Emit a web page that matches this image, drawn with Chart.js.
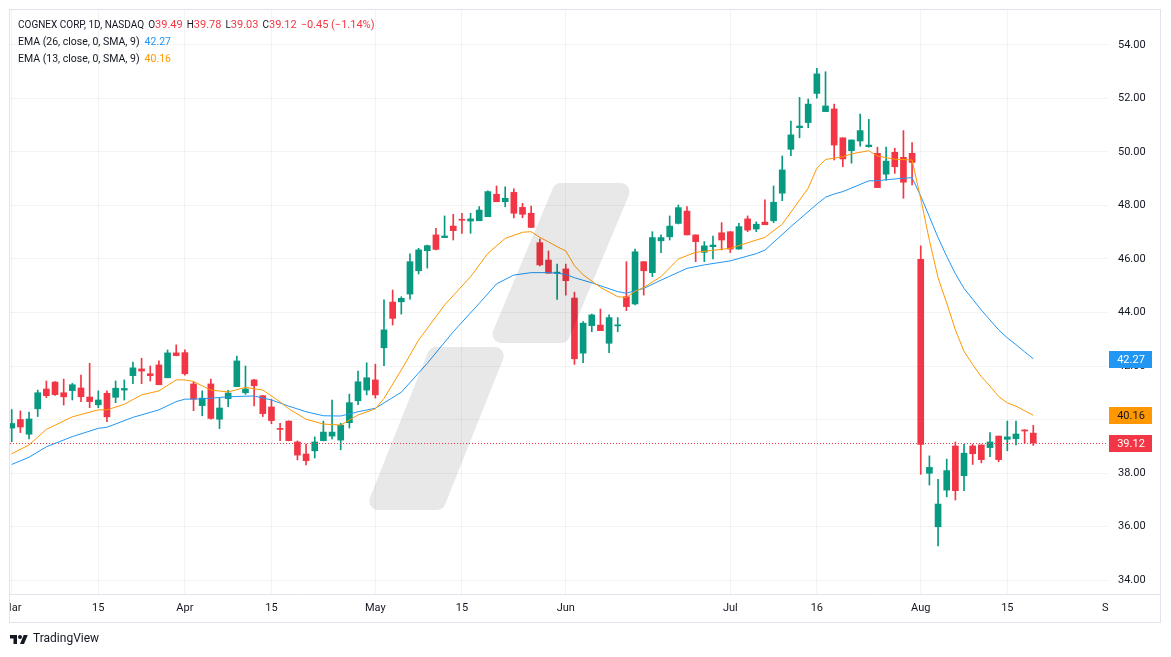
<!DOCTYPE html>
<html>
<head>
<meta charset="utf-8">
<title>COGNEX CORP, 1D, NASDAQ</title>
<script src="https://cdn.jsdelivr.net/npm/chart.js@4.4.1/dist/chart.umd.min.js"></script>
<style>
  html, body { margin: 0; padding: 0; background: #fff; }
  #wrap { position: relative; width: 1171px; height: 657px; overflow: hidden; }
  #wrap canvas { position: absolute; left: 0; top: 0; }
  .legend { position: absolute; left: 18px; font: 10.5px Roboto, Arial, sans-serif; color: #131722; white-space: pre; line-height: 12px; }
  .legend.title { font-size: 10px; top: 19px; }
  .legend.title .v { font-size: 11px; }
  .legend.title b { font-weight: normal; margin-left: 4px; }
  .dn { color: #F23645; }
  .blue { color: #2196F3; margin-left: 5px; }
  .orange { color: #FF9800; margin-left: 5px; }
  #brand { position: absolute; left: 10px; top: 631px; font: 12px Roboto, Arial, sans-serif; color: #131722; display: flex; align-items: center; gap: 5px; }
</style>
</head>
<body>
<div id="wrap">
  <canvas id="cognexChart" width="1171" height="657"></canvas>
  <div class="legend title">COGNEX CORP, 1D, NASDAQ<b>O<span class="dn v">39.49</span></b><b>H<span class="dn v">39.78</span></b><b>L<span class="dn v">39.03</span></b><b>C<span class="dn v">39.12</span></b><b class="dn v">−0.45 (−1.14%)</b></div>
  <div class="legend" style="top:36px">EMA (26, close, 0, SMA, 9)<span class="blue">42.27</span></div>
  <div class="legend" style="top:53px">EMA (13, close, 0, SMA, 9)<span class="orange">40.16</span></div>
  <div id="brand">
    <svg width="18" height="11" viewBox="0 0 36 22"><path d="M14 22H7V11H0V4h14v18z" fill="#131722"/><circle cx="20" cy="8" r="4" fill="#131722"/><path d="M28 22h-8l7.5-18h8z" fill="#131722"/></svg>
    <span>TradingView</span>
  </div>
</div>
<script>
// Daily candles, 1 Mar 2024 -> 20 Aug 2024 (index = trading day)
var opens = [39.68,40.00,39.45,40.40,41.14,41.40,41.00,41.08,41.18,40.84,
  40.55,40.98,40.83,41.10,41.64,41.89,41.71,42.04,41.56,42.49,
  42.50,41.33,40.52,41.33,40.01,40.78,41.23,41.00,41.48,40.89,
  40.47,39.65,39.94,39.16,38.71,38.83,39.21,39.38,39.23,39.88,
  40.70,41.10,41.48,42.68,44.39,44.40,44.69,45.56,46.31,46.90,
  46.80,47.23,47.47,47.42,47.43,47.58,48.42,48.14,48.49,47.93,
  47.71,46.61,45.96,45.47,45.63,44.54,42.48,43.51,43.53,42.85,
  43.50,44.59,44.32,45.90,45.49,46.68,46.83,47.33,47.79,46.90,
  46.25,46.46,46.98,47.02,46.37,47.50,47.12,47.38,47.43,48.46,
  50.10,50.91,51.10,52.19,51.51,51.61,50.53,50.05,50.41,50.20,
  49.95,49.17,49.99,49.80,49.95,45.99,37.99,35.99,37.36,39.01,
  37.90,39.01,39.05,38.95,39.38,39.26,39.28,39.61,39.49];
var highs = [40.37,40.32,40.28,41.10,41.44,41.42,41.51,41.35,41.66,42.10,
  41.07,41.07,41.44,41.48,42.15,42.29,42.00,42.19,42.60,42.79,
  42.60,41.41,41.07,41.51,40.79,41.09,42.37,42.00,41.50,40.90,
  40.76,39.86,39.95,39.20,39.08,39.35,39.94,40.73,39.86,40.95,
  41.81,42.12,42.07,44.47,44.84,44.59,46.19,46.40,46.52,47.15,
  47.61,47.67,47.71,47.71,47.96,48.55,48.73,48.70,48.62,48.08,
  47.98,46.75,46.30,45.81,45.81,44.76,43.66,43.94,44.13,43.91,
  43.81,45.90,46.37,45.90,47.02,46.90,47.61,48.02,47.96,46.90,
  46.65,46.86,47.36,47.02,47.33,47.61,47.39,48.21,48.73,49.85,
  51.16,52.04,51.98,53.13,53.00,51.79,50.53,50.45,51.42,51.22,
  50.18,50.18,50.14,50.80,50.35,46.49,38.64,37.76,38.52,39.16,
  39.07,39.07,39.05,39.51,39.38,39.94,39.94,39.62,39.78];
var lows = [39.17,39.51,39.27,40.11,40.82,40.90,40.54,40.73,40.67,40.44,
  40.44,39.92,40.63,40.73,41.34,41.34,41.44,41.30,41.56,42.38,
  41.66,40.33,40.14,40.01,39.66,40.48,41.23,40.94,40.51,40.11,
  39.84,39.21,39.20,38.49,38.30,38.56,39.20,39.27,38.87,39.68,
  40.55,40.92,40.80,42.01,43.53,43.94,44.50,45.44,45.66,46.34,
  46.80,46.71,46.96,46.96,47.43,47.58,48.14,47.95,47.54,47.54,
  47.18,45.74,45.47,44.49,44.65,42.06,42.12,43.28,43.32,42.50,
  43.28,44.07,44.28,44.65,45.34,46.24,46.71,47.31,46.90,45.90,
  45.90,46.00,46.34,46.24,46.37,47.02,47.02,47.28,47.36,48.18,
  49.86,50.53,50.91,52.01,51.51,49.70,49.45,49.58,50.22,50.18,
  48.67,48.95,49.20,48.27,48.77,37.95,37.55,35.27,37.11,36.99,
  37.34,38.32,38.38,38.61,38.42,38.83,39.05,39.11,39.03];
var closes = [39.85,39.72,40.02,41.00,40.89,40.93,40.85,41.30,40.85,40.67,
  40.73,40.10,41.17,41.16,41.93,41.81,41.64,41.30,42.49,42.39,
  41.71,40.76,40.80,40.04,40.43,40.99,42.19,41.14,41.26,40.22,
  39.96,39.63,39.21,38.67,38.46,39.16,39.53,39.53,39.79,40.63,
  41.41,41.56,40.92,43.35,43.78,44.53,45.90,46.34,46.50,46.36,
  46.86,47.06,47.45,47.50,47.83,48.52,48.14,48.27,47.71,47.67,
  47.18,45.78,45.47,45.51,45.19,42.27,43.60,43.91,43.32,43.81,
  43.53,44.22,46.27,45.56,46.80,46.80,47.23,47.92,46.90,46.65,
  46.49,46.52,46.71,46.37,47.21,47.08,47.30,47.28,48.12,49.33,
  50.64,50.97,51.79,52.92,51.72,50.26,49.74,50.45,50.80,50.26,
  48.67,49.66,49.45,48.87,49.61,39.07,38.21,36.84,38.09,37.34,
  38.74,38.72,38.50,39.16,38.50,39.35,39.46,39.57,39.12];

// EMA lines: bar index + value
var ema26At = [0,2,4,7,10,11,14,17,19,20,22,25,28,30,32,34,36,38,40,42,45,48,51,54,56,58,60,62,63,64,65,67,70,71,73,75,78,80,83,86,87,90,93,94,95,96,99,100,103,104,105,106,107,108,109,110,111,112,113,114,115,116,117,118];
var ema26 = [38.32,38.59,38.98,39.36,39.67,39.71,40.08,40.36,40.67,40.76,40.77,40.85,40.88,40.73,40.50,40.29,40.14,40.13,40.29,40.42,41.02,42.10,43.28,44.34,45.07,45.40,45.49,45.49,45.47,45.42,45.30,45.11,44.78,44.72,44.90,45.21,45.65,45.78,45.93,46.20,46.33,47.21,48.05,48.31,48.43,48.52,48.92,48.93,49.02,49.04,48.35,47.58,46.80,46.10,45.45,44.90,44.50,44.09,43.72,43.35,43.05,42.80,42.53,42.27];
var ema13At = [0,2,4,7,10,11,13,15,17,19,20,21,23,25,27,29,31,32,34,36,38,40,42,43,45,47,50,53,55,57,59,60,61,62,63,64,65,66,68,70,71,72,73,75,77,79,83,87,89,92,93,94,96,97,99,100,102,104,105,106,107,108,109,110,111,112,113,114,115,116,117,118];
var ema13 = [38.72,39.05,39.63,40.10,40.36,40.36,40.57,40.92,41.07,41.48,41.48,41.42,41.10,41.03,41.20,41.10,40.66,40.40,40.01,39.83,39.79,40.17,40.40,40.79,41.85,42.97,44.28,45.34,46.21,46.77,47.00,47.02,46.81,46.64,46.46,46.30,45.75,45.41,44.94,44.59,44.56,44.79,44.94,45.34,46.00,46.25,46.40,46.81,47.30,48.65,49.39,49.72,49.82,49.93,50.05,49.85,49.73,49.70,48.25,46.70,45.30,44.35,43.35,42.55,42.05,41.60,41.25,40.86,40.62,40.50,40.33,40.16];

// axis ticks
var tickAt = [0,10,20,30,42,52,64,83,93,105,115,127];
var tickText = ['Mar','15','Apr','15','May','15','Jun','Jul','16','Aug','15','Sep'];
var priceTicks = [34,36,38,40,42,44,46,48,50,52,54];

var UP = '#089981', DOWN = '#F23645';
var FONT = 'Roboto, Arial, sans-serif';
var candleColors = closes.map(function(c, i) { return c >= opens[i] ? UP : DOWN; });

function roundPoly(ctx, pts, r) {
  var n = pts.length;
  ctx.beginPath();
  ctx.moveTo((pts[n - 1][0] + pts[0][0]) / 2, (pts[n - 1][1] + pts[0][1]) / 2);
  for (var k = 0; k < n; k++) {
    var p = pts[k], q = pts[(k + 1) % n];
    ctx.arcTo(p[0], p[1], q[0], q[1], r);
  }
  ctx.closePath();
}

var decor = {
  id: 'decor',
  afterDatasetsDraw: function(chart) {
    var ctx = chart.ctx;
    ctx.save();
    ctx.fillStyle = 'rgba(0,0,0,0.09)';
    // background logo watermark
    roundPoly(ctx, [[555,183],[634,183],[567,343],[488,343]], 9);
    ctx.fill();
    roundPoly(ctx, [[430,347],[508,347],[443,510],[365,510]], 9);
    ctx.fill();
    ctx.restore();
  },
  afterDraw: function(chart) {
    var ctx = chart.ctx, a = chart.chartArea, y = chart.scales.y;
    ctx.save();
    // clip labels that fall outside the time axis
    ctx.fillStyle = '#fff';
    ctx.fillRect(0, a.bottom + 1, 9, 40);
    ctx.fillRect(a.right + 1, a.bottom + 1, 60, 28);

    // last price dotted line
    var last = closes.length - 1;
    var yl = Math.round(y.getPixelForValue(closes[last])) + 0.5;
    ctx.strokeStyle = DOWN;
    ctx.lineWidth = 1;
    ctx.setLineDash([1, 2]);
    ctx.beginPath();
    ctx.moveTo(a.left, yl);
    ctx.lineTo(a.right, yl);
    ctx.stroke();
    ctx.setLineDash([]);

    // price tags
    var tags = [
      { v: ema26[ema26.length - 1], bg: '#2196F3', fg: '#fff' },
      { v: ema13[ema13.length - 1], bg: '#FF9800', fg: '#131722' },
      { v: closes[last], bg: DOWN, fg: '#fff' }
    ];
    ctx.font = '11px ' + FONT;
    ctx.textAlign = 'center';
    ctx.textBaseline = 'middle';
    tags.forEach(function(t) {
      var py = Math.round(y.getPixelForValue(t.v));
      ctx.fillStyle = t.bg;
      ctx.fillRect(a.right + 1, py - 8, 43, 17);
      ctx.fillStyle = t.fg;
      ctx.fillText(t.v.toFixed(2), a.right + 23, py + 1);
    });

    // frame
    ctx.strokeStyle = '#e0e3eb';
    ctx.strokeRect(9.5, 9.5, 1151, 613);
    ctx.beginPath();
    ctx.moveTo(9.5, a.bottom + 0.5);
    ctx.lineTo(1160.5, a.bottom + 0.5);
    ctx.stroke();
    ctx.restore();
  }
};

var ctx = document.getElementById('cognexChart').getContext('2d');
var cognexChart = new Chart(ctx, {
  type: 'bar',
  data: {
    datasets: [
      {
        type: 'line',
        label: 'EMA 13',
        data: ema13At.map(function(x, k) { return { x: x, y: ema13[k] }; }),
        borderColor: '#FF9800',
        borderWidth: 1,
        pointRadius: 0,
        tension: 0,
        order: 0
      },
      {
        type: 'line',
        label: 'EMA 26',
        data: ema26At.map(function(x, k) { return { x: x, y: ema26[k] }; }),
        borderColor: '#2196F3',
        borderWidth: 1,
        pointRadius: 0,
        tension: 0,
        order: 0
      },
      {
        label: 'Corps',
        data: opens.map(function(o, i) { return { x: i, y: [o, closes[i]] }; }),
        backgroundColor: candleColors,
        barThickness: 6,
        minBarLength: 1,
        grouped: false,
        borderWidth: 0,
        order: 2
      },
      {
        label: 'Mèches',
        data: lows.map(function(l, i) { return { x: i, y: [l, highs[i]] }; }),
        backgroundColor: candleColors,
        barThickness: 1,
        grouped: false,
        borderWidth: 0,
        order: 3
      }
    ]
  },
  options: {
    responsive: false,
    animation: false,
    events: [],
    layout: { padding: { left: 10, top: 10, right: 11, bottom: 34 } },
    plugins: { legend: { display: false }, tooltip: { enabled: false } },
    scales: {
      x: {
        type: 'linear',
        offset: false,
        min: -0.2,
        max: 126.63,
        afterFit: function(s) { s.height = 29; s.paddingLeft = 0; s.paddingRight = 0; },
        afterBuildTicks: function(s) { s.ticks = tickAt.map(function(v) { return { value: v }; }); },
        grid: {
          offset: false,
          drawTicks: false,
          color: function(c) { return c.tick && c.tick.value > 126.63 ? 'rgba(0,0,0,0)' : 'rgba(42,46,57,0.06)'; }
        },
        border: { display: false },
        ticks: {
          autoSkip: false,
          maxRotation: 0,
          padding: 8,
          color: '#131722',
          font: { size: 11, family: FONT },
          callback: function(v, k) { return tickText[k]; }
        }
      },
      y: {
        position: 'right',
        min: 33.477,
        max: 55.308,
        afterFit: function(s) { s.width = 52; s.paddingTop = 0; s.paddingBottom = 0; },
        afterBuildTicks: function(s) { s.ticks = priceTicks.map(function(v) { return { value: v }; }); },
        grid: { drawTicks: false, color: 'rgba(42,46,57,0.06)' },
        border: { display: false },
        ticks: {
          padding: 10,
          color: '#131722',
          font: { size: 11, family: FONT },
          callback: function(v) { return v.toFixed(2); }
        }
      }
    }
  },
  plugins: [decor]
});
</script>
</body>
</html>
